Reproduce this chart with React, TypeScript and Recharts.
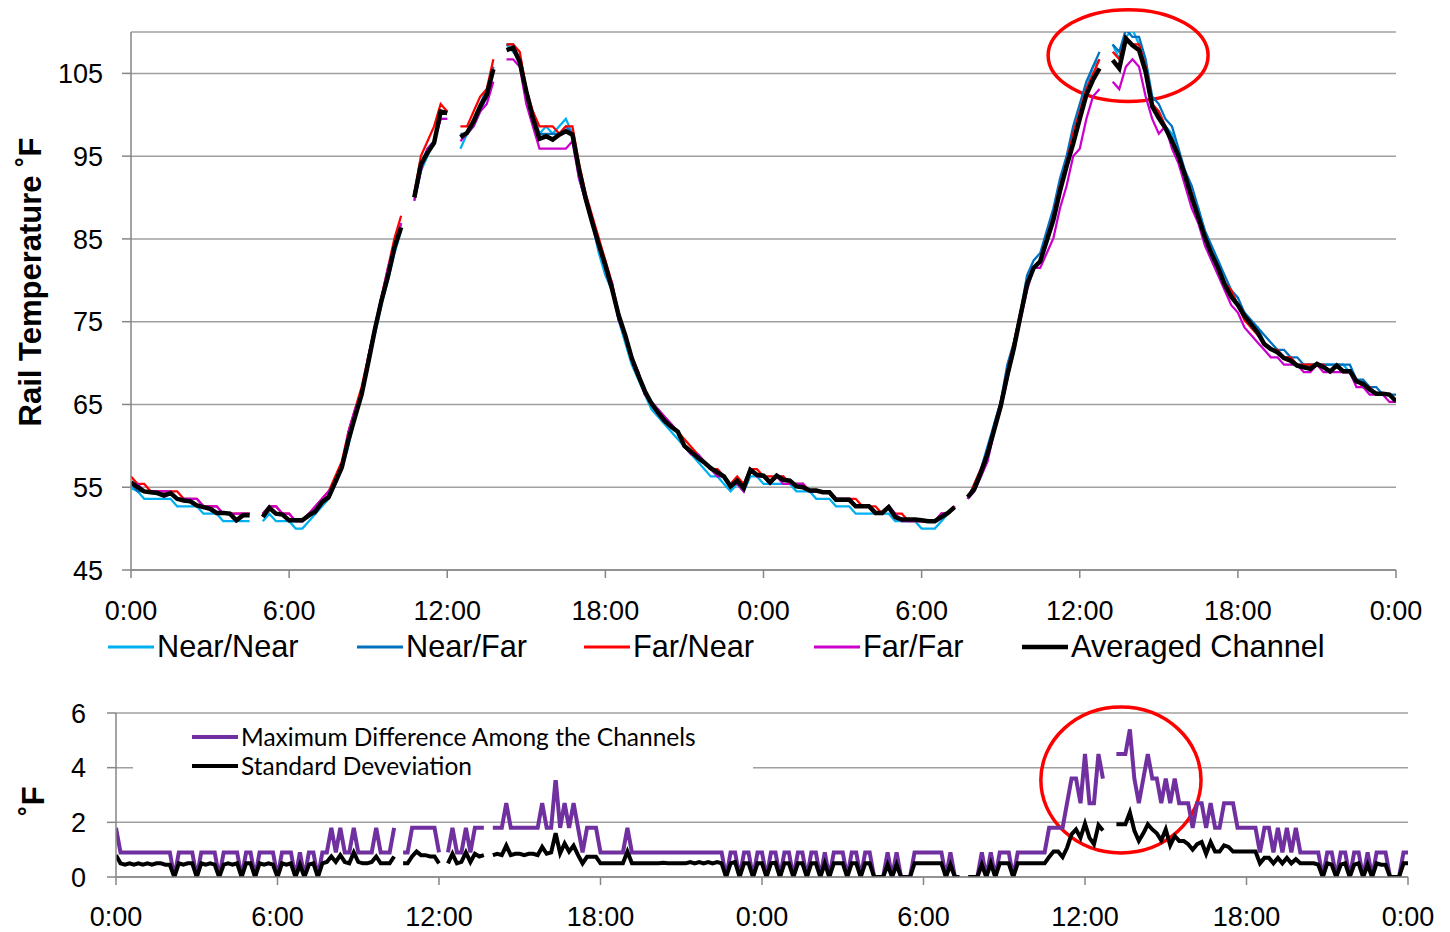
import React from 'react';
import { LineChart, Line, XAxis, YAxis, CartesianGrid, ReferenceArea } from 'recharts';

// Rail temperature, one reading every 15 minutes over 48 hours (°F); null = missing reading
const nearNear = [
  54.9, 54.5, 53.6, 53.6,
  53.6, 53.6, 53.6, 52.7,
  52.7, 52.7, 52.7, 51.8,
  51.8, 51.8, 50.9, 50.9,
  50.9, 50.9, 50.9, null,
  50.9, 51.8, 50.9, 50.9,
  50.9, 50.0, 50.0, 50.9,
  51.8, 52.7, 53.6, 55.4,
  57.2, 60.0, 63.5, 66.2,
  70.0, 73.4, 77.0, 80.0,
  83.3, 86.0, null, 89.6,
  93.2, 95.0, 96.8, 99.5,
  99.5, null, 95.9, 97.7,
  98.6, 100.4, 102.2, 105.8,
  null, 108.5, 107.6, 106.7,
  102.2, 100.4, 97.7, 98.6,
  97.7, 98.6, 99.5, 97.7,
  92.3, 89.6, 86.9, 83.3,
  80.6, 78.8, 75.2, 72.5,
  69.8, 68.0, 66.2, 64.4,
  63.5, 62.6, 61.7, 60.8,
  59.9, 59.0, 58.1, 57.2,
  56.3, 56.3, 55.4, 54.5,
  55.4, 54.5, 56.3, 56.3,
  55.4, 55.4, 55.4, 55.4,
  55.4, 54.5, 54.5, 54.5,
  53.6, 53.6, 53.6, 52.7,
  52.7, 52.7, 51.8, 51.8,
  51.8, 51.8, 51.8, 51.8,
  50.9, 50.9, 50.9, 50.9,
  50.0, 50.0, 50.0, 50.9,
  51.8, 52.7, null, 53.6,
  54.5, 56.3, 59.0, 62.6,
  65.3, 68.9, 72.5, 76.1,
  79.7, 81.5, 82.4, 85.1,
  87.8, 91.4, 94.1, 97.7,
  100.4, 103.1, 105.8, 106.7,
  null, 108.5, 106.7, 109.4,
  110.3, 108.5, 105.8, 101.3,
  100.4, 98.6, 97.7, 95.0,
  93.2, 90.5, 88.7, 85.1,
  83.3, 82.4, 79.7, 78.8,
  77.0, 76.1, 74.3, 74.3,
  72.5, 71.6, 71.6, 70.7,
  70.7, 69.8, 69.8, 69.8,
  69.8, 69.8, 69.8, 69.8,
  69.8, 68.9, 68.0, 67.1,
  67.1, 66.2, 66.2, 66.2,
  65.3,
];

const nearFar = [
  55.4, 54.5, 54.5, 54.5,
  54.5, 54.5, 54.5, 53.6,
  53.6, 53.6, 52.7, 52.7,
  52.7, 51.8, 51.8, 51.8,
  50.9, 51.8, 51.8, null,
  51.8, 52.7, 51.8, 51.8,
  50.9, 50.9, 50.9, 51.8,
  51.8, 53.6, 53.6, 55.4,
  57.2, 60.8, 63.5, 66.2,
  70.7, 74.3, 77.9, 80.6,
  84.2, 86.9, null, 90.5,
  94.1, 95.9, 96.8, 100.4,
  100.4, null, 97.7, 97.7,
  99.5, 101.3, 103.1, 105.8,
  null, 108.5, 108.5, 106.7,
  103.1, 99.5, 97.7, 97.7,
  97.7, 97.7, 98.6, 97.7,
  93.2, 89.6, 86.9, 84.2,
  81.5, 79.7, 75.2, 73.4,
  70.7, 68.9, 66.2, 65.3,
  64.4, 63.5, 62.6, 61.7,
  59.9, 59.0, 59.0, 58.1,
  57.2, 57.2, 56.3, 55.4,
  55.4, 55.4, 57.2, 56.3,
  56.3, 55.4, 56.3, 56.3,
  55.4, 55.4, 55.4, 54.5,
  54.5, 54.5, 54.5, 53.6,
  53.6, 53.6, 52.7, 52.7,
  52.7, 51.8, 51.8, 52.7,
  51.8, 50.9, 50.9, 50.9,
  50.9, 50.9, 50.9, 51.8,
  51.8, 52.7, null, 53.6,
  55.4, 57.2, 59.9, 62.6,
  65.3, 69.8, 72.5, 76.1,
  80.6, 82.4, 83.3, 86.0,
  88.7, 92.3, 95.0, 98.6,
  101.3, 104.0, 105.8, 107.6,
  null, 108.5, 107.6, 110.3,
  109.4, 109.4, 106.7, 102.2,
  101.3, 99.5, 98.6, 95.9,
  93.2, 91.4, 88.7, 86.0,
  84.2, 82.4, 80.6, 78.8,
  77.9, 76.1, 75.2, 74.3,
  73.4, 72.5, 71.6, 71.6,
  70.7, 70.7, 69.8, 69.8,
  69.8, 69.8, 69.8, 69.8,
  69.8, 69.8, 68.0, 68.0,
  67.1, 67.1, 66.2, 66.2,
  66.2,
];

const farNear = [
  56.3, 55.4, 55.4, 54.5,
  54.5, 54.5, 54.5, 54.5,
  53.6, 53.6, 53.6, 52.7,
  52.7, 52.7, 51.8, 51.8,
  51.8, 51.8, 51.8, null,
  51.8, 52.7, 52.7, 51.8,
  51.8, 50.9, 50.9, 51.8,
  52.7, 53.6, 54.5, 56.3,
  58.1, 61.7, 64.4, 67.1,
  70.7, 74.3, 77.9, 81.5,
  85.1, 87.8, null, 90.5,
  95.0, 96.8, 98.6, 101.3,
  100.4, null, 98.6, 98.6,
  100.4, 102.2, 103.1, 106.7,
  null, 108.5, 108.5, 107.6,
  103.1, 100.4, 98.6, 98.6,
  98.6, 97.7, 98.6, 98.6,
  94.1, 90.5, 87.8, 85.1,
  82.4, 79.7, 76.1, 73.4,
  70.7, 68.9, 66.2, 65.3,
  64.4, 63.5, 62.6, 61.7,
  60.8, 59.9, 59.0, 58.1,
  57.2, 57.2, 56.3, 55.4,
  56.3, 55.4, 57.2, 57.2,
  56.3, 56.3, 56.3, 56.3,
  55.4, 55.4, 55.4, 54.5,
  54.5, 54.5, 54.5, 53.6,
  53.6, 53.6, 53.6, 52.7,
  52.7, 52.7, 51.8, 52.7,
  51.8, 51.8, 50.9, 50.9,
  50.9, 50.9, 50.9, 51.8,
  51.8, 52.7, null, 53.6,
  55.4, 57.2, 59.0, 61.7,
  65.3, 68.9, 72.5, 76.1,
  79.7, 81.5, 82.4, 85.1,
  87.8, 91.4, 94.1, 97.7,
  100.4, 103.1, 104.9, 106.7,
  null, 107.6, 106.7, 109.4,
  108.5, 108.5, 105.8, 101.3,
  100.4, 98.6, 96.8, 95.0,
  92.3, 90.5, 87.8, 85.1,
  83.3, 81.5, 79.7, 78.8,
  77.0, 75.2, 74.3, 73.4,
  72.5, 71.6, 71.6, 70.7,
  70.7, 69.8, 69.8, 69.8,
  69.8, 69.8, 68.9, 69.8,
  68.9, 68.9, 68.0, 67.1,
  67.1, 66.2, 66.2, 66.2,
  65.3,
];

const farFar = [
  55.4, 55.4, 54.5, 54.5,
  54.5, 54.5, 54.5, 53.6,
  53.6, 53.6, 53.6, 52.7,
  52.7, 52.7, 51.8, 51.8,
  51.8, 51.8, 51.8, null,
  51.8, 52.7, 52.7, 51.8,
  51.8, 50.9, 50.9, 51.8,
  52.7, 53.6, 54.5, 55.4,
  57.2, 61.7, 64.4, 66.2,
  70.7, 74.3, 77.9, 81.5,
  84.2, 86.9, null, 89.6,
  93.2, 95.9, 96.8, 99.5,
  99.5, null, 96.8, 97.7,
  98.6, 100.4, 101.3, 104.0,
  null, 106.7, 106.7, 105.8,
  101.3, 98.6, 95.9, 95.9,
  95.9, 95.9, 95.9, 96.8,
  92.3, 89.6, 86.9, 84.2,
  81.5, 79.7, 75.2, 73.4,
  70.7, 68.9, 66.2, 65.3,
  64.4, 63.5, 62.6, 61.7,
  59.9, 59.0, 59.0, 58.1,
  57.2, 56.3, 56.3, 55.4,
  55.4, 54.5, 57.2, 56.3,
  56.3, 55.4, 56.3, 55.4,
  55.4, 55.4, 55.4, 54.5,
  54.5, 54.5, 54.5, 53.6,
  53.6, 53.6, 52.7, 52.7,
  52.7, 51.8, 51.8, 52.7,
  51.8, 50.9, 50.9, 50.9,
  50.9, 50.9, 50.9, 51.8,
  51.8, 52.7, null, 53.6,
  54.5, 56.3, 58.1, 61.7,
  64.4, 68.0, 71.6, 75.2,
  78.8, 81.5, 81.5, 83.3,
  85.1, 88.7, 91.4, 95.0,
  95.9, 99.5, 102.2, 103.1,
  null, 104.0, 103.1, 105.8,
  106.7, 105.8, 102.2, 99.5,
  97.7, 98.6, 95.9, 94.1,
  91.4, 88.7, 86.9, 84.2,
  82.4, 80.6, 78.8, 77.0,
  76.1, 74.3, 73.4, 72.5,
  71.6, 70.7, 70.7, 69.8,
  69.8, 69.8, 68.9, 68.9,
  69.8, 68.9, 68.9, 68.9,
  68.9, 68.9, 67.1, 67.1,
  66.2, 66.2, 66.2, 65.3,
  65.3,
];

const averaged = [
  55.6, 55.0, 54.5, 54.4,
  54.3, 54.0, 54.3, 53.6,
  53.4, 53.3, 52.8, 52.6,
  52.4, 51.9, 51.9, 51.8,
  51.0, 51.6, 51.6, null,
  51.4, 52.5, 51.8, 51.7,
  51.0, 51.0, 51.0, 51.6,
  52.1, 53.2, 53.8, 55.6,
  57.4, 60.7, 63.5, 66.2,
  70.0, 74.0, 77.5, 80.5,
  84.0, 86.4, null, 90.0,
  94.0, 95.4, 96.6, 100.4,
  100.2, null, 97.3, 97.8,
  99.2, 101.0, 102.4, 105.5,
  null, 107.8, 108.1, 106.4,
  102.8, 99.6, 97.1, 97.4,
  97.0, 97.6, 98.0, 97.6,
  93.4, 89.9, 87.0, 84.3,
  81.8, 79.0, 75.8, 73.4,
  70.6, 68.5, 66.6, 65.1,
  64.0, 63.0, 62.3, 61.7,
  60.0, 59.3, 58.6, 58.0,
  57.3, 56.8, 56.3, 55.1,
  55.8, 54.9, 57.1, 56.5,
  56.4, 55.6, 56.4, 55.9,
  55.8, 55.1, 55.0, 54.6,
  54.6, 54.4, 54.4, 53.5,
  53.5, 53.5, 52.7, 52.7,
  52.7, 51.9, 51.9, 52.6,
  51.4, 51.1, 51.1, 51.1,
  51.0, 50.9, 50.9, 51.4,
  51.9, 52.6, null, 53.8,
  54.8, 56.8, 59.0, 61.9,
  64.8, 68.5, 71.8, 75.7,
  79.5, 81.5, 82.3, 84.8,
  87.3, 90.8, 93.8, 96.5,
  99.5, 102.4, 104.2, 105.6,
  null, 106.6, 105.6, 109.2,
  108.4, 107.8, 105.2, 101.0,
  99.6, 98.4, 96.8, 95.0,
  92.6, 90.0, 87.6, 85.2,
  83.2, 81.5, 79.5, 78.0,
  77.0, 75.7, 74.7, 73.7,
  72.3, 71.7, 71.3, 70.6,
  70.3, 69.7, 69.5, 69.3,
  69.9, 69.5, 69.0, 69.7,
  69.0, 69.0, 67.8, 67.5,
  66.8, 66.3, 66.3, 66.2,
  65.4,
];

// Spread between the four channels, one value every 10 minutes (°F)
const maxDifference = [
  1.8, 0.9, 0.9, 0.9, 0.9, 0.9,
  0.9, 0.9, 0.9, 0.9, 0.9, 0.9,
  0.9, 0, 0.9, 0.9, 0.9, 0.9,
  0, 0.9, 0.9, 0.9, 0.9, 0,
  0.9, 0.9, 0.9, 0.9, 0, 0.9,
  0.9, 0, 0.9, 0.9, 0.9, 0.9,
  0, 0.9, 0.9, 0.9, 0, 0.9,
  0, 0.9, 0.9, 0, 0.9, 0.9,
  1.8, 0.9, 1.8, 0.9, 0.9, 1.8,
  0.9, 0.9, 0.9, 0.9, 1.8, 0.9,
  0.9, 0.9, 1.8, null, 0.9, 0.9,
  1.8, 1.8, 1.8, 1.8, 1.8, 1.8,
  0.9, null, 0.9, 1.8, 0.9, 0.9,
  1.8, 0.9, 1.8, 1.8, 1.8, null,
  1.8, 1.8, 1.8, 2.7, 1.8, 1.8,
  1.8, 1.8, 1.8, 1.8, 1.8, 2.7,
  1.8, 1.8, 3.6, 1.8, 2.7, 1.8,
  2.7, 1.8, 0.9, 1.8, 1.8, 1.8,
  0.9, 0.9, 0.9, 0.9, 0.9, 0.9,
  1.8, 0.9, 0.9, 0.9, 0.9, 0.9,
  0.9, 0.9, 0.9, 0.9, 0.9, 0.9,
  0.9, 0.9, 0.9, 0.9, 0.9, 0.9,
  0.9, 0.9, 0.9, 0.9, 0, 0.9,
  0.9, 0, 0.9, 0.9, 0, 0.9,
  0.9, 0, 0.9, 0.9, 0, 0.9,
  0.9, 0, 0.9, 0.9, 0, 0.9,
  0.9, 0, 0.9, 0, 0.9, 0.9,
  0.9, 0, 0.9, 0.9, 0, 0.9,
  0.9, 0, 0, 0, 0.9, 0,
  0.9, 0, 0, 0, 0.9, 0.9,
  0.9, 0.9, 0.9, 0.9, 0.9, 0,
  0.9, 0, 0, null, 0, 0,
  0, 0.9, 0, 0.9, 0, 0.9,
  0.9, 0.9, 0, 0.9, 0.9, 0.9,
  0.9, 0.9, 0.9, 0.9, 1.8, 1.8,
  1.8, 1.8, 2.7, 3.6, 3.6, 2.7,
  4.5, 2.7, 2.7, 4.5, 3.6, null,
  null, 4.5, 4.5, 4.5, 5.4, 3.6,
  2.7, 3.6, 4.5, 3.6, 3.6, 2.7,
  3.6, 2.7, 3.6, 2.7, 2.7, 2.7,
  1.8, 2.7, 2.7, 1.8, 2.7, 1.8,
  1.8, 2.7, 2.7, 2.7, 1.8, 1.8,
  1.8, 1.8, 1.8, 0.9, 1.8, 1.8,
  0.9, 1.8, 0.9, 1.8, 0.9, 1.8,
  0.9, 0.9, 0.9, 0.9, 0.9, 0,
  0.9, 0.9, 0, 0.9, 0.9, 0,
  0.9, 0.9, 0, 0.9, 0, 0.9,
  0.9, 0.9, 0, 0, 0, 0.9,
  0.9,
];

const stdDeviation = [
  0.8, 0.5, 0.45, 0.5, 0.45, 0.5,
  0.45, 0.5, 0.45, 0.5, 0.5, 0.45,
  0.45, 0, 0.5, 0.45, 0.5, 0.5,
  0, 0.5, 0.45, 0.5, 0.45, 0,
  0.45, 0.5, 0.45, 0.5, 0, 0.5,
  0.5, 0, 0.5, 0.45, 0.5, 0.45,
  0, 0.5, 0.45, 0.5, 0, 0.45,
  0, 0.45, 0.5, 0, 0.5, 0.55,
  0.75, 0.55, 0.8, 0.55, 0.5, 0.9,
  0.55, 0.5, 0.5, 0.55, 0.75, 0.5,
  0.5, 0.5, 0.75, null, 0.5, 0.5,
  0.75, 0.93, 0.8, 0.8, 0.75, 0.75,
  0.5, null, 0.5, 0.85, 0.5, 0.55,
  0.9, 0.55, 0.85, 0.75, 0.8, null,
  0.8, 0.85, 0.8, 1.15, 0.8, 0.85,
  0.85, 0.8, 0.85, 0.85, 0.8, 1.1,
  0.85, 0.9, 1.6, 0.87, 1.23, 0.93,
  1.15, 0.8, 0.5, 0.74, 0.74, 0.74,
  0.5, 0.5, 0.5, 0.5, 0.5, 0.5,
  0.93, 0.5, 0.5, 0.5, 0.5, 0.5,
  0.5, 0.5, 0.52, 0.5, 0.5, 0.5,
  0.5, 0.5, 0.55, 0.5, 0.55, 0.5,
  0.55, 0.5, 0.55, 0.5, 0, 0.5,
  0.55, 0, 0.5, 0.5, 0, 0.5,
  0.5, 0, 0.5, 0.52, 0, 0.5,
  0.5, 0, 0.5, 0.5, 0, 0.5,
  0.5, 0, 0.5, 0, 0.5, 0.5,
  0.5, 0, 0.5, 0.5, 0, 0.5,
  0.5, 0, 0, 0, 0.45, 0,
  0.45, 0, 0, 0, 0.5, 0.5,
  0.5, 0.5, 0.5, 0.5, 0.5, 0,
  0.45, 0, 0, null, 0, 0,
  0, 0.45, 0, 0.5, 0, 0.5,
  0.5, 0.5, 0, 0.5, 0.5, 0.5,
  0.5, 0.5, 0.5, 0.5, 0.73, 0.93,
  0.93, 0.73, 1.07, 1.56, 1.74, 1.44,
  1.95, 1.43, 1.2, 1.9, 1.7, null,
  null, 1.93, 1.93, 1.93, 2.36, 1.7,
  1.32, 1.6, 1.93, 1.74, 1.6, 1.34,
  1.74, 1.16, 1.5, 1.32, 1.32, 1.2,
  1.0, 1.2, 1.28, 0.85, 1.28, 0.93,
  0.93, 1.16, 1.1, 0.93, 0.93, 0.93,
  0.93, 0.93, 0.93, 0.5, 0.7, 0.7,
  0.5, 0.7, 0.5, 0.7, 0.5, 0.65,
  0.5, 0.5, 0.5, 0.5, 0.45, 0,
  0.5, 0.45, 0, 0.45, 0.5, 0,
  0.45, 0.5, 0, 0.45, 0, 0.5,
  0.45, 0.45, 0, 0, 0, 0.5,
  0.5,
];

const timeTicks = [0, 6, 12, 18, 24, 30, 36, 42, 48];
const timeLabels = ['0:00', '6:00', '12:00', '18:00', '0:00', '6:00', '12:00', '18:00', '0:00'];
const tempTicks = [45, 55, 65, 75, 85, 95, 105];
const diffTicks = [0, 2, 4, 6];

const channels = [
  { key: 'nearNear', name: 'Near/Near', color: '#00B0F0', width: 2.25, legendWidth: 3 },
  { key: 'nearFar', name: 'Near/Far', color: '#0070C0', width: 2.25, legendWidth: 3 },
  { key: 'farNear', name: 'Far/Near', color: '#FF0000', width: 2.25, legendWidth: 3 },
  { key: 'farFar', name: 'Far/Far', color: '#CC00CC', width: 2.25, legendWidth: 3 },
  { key: 'averaged', name: 'Averaged Channel', color: '#000000', width: 4.5, legendWidth: 4.5 },
];
const channelValues: Record<string, (number | null)[]> = { nearNear, nearFar, farNear, farFar, averaged };

const spreadSeries = [
  { key: 'maxDifference', name: 'Maximum Difference Among the Channels', color: '#7030A0', width: 4 },
  { key: 'stdDeviation', name: 'Standard Deveviation', color: '#000000', width: 4 },
];

const topData = averaged.map((_, i) => {
  const row: Record<string, number | null> = { h: i * 0.25 };
  channels.forEach((c) => { row[c.key] = channelValues[c.key][i]; });
  return row;
});

const bottomData = maxDifference.map((v, i) => ({
  h: i / 6,
  maxDifference: v,
  stdDeviation: stdDeviation[i],
}));

const AXIS_GRAY = '#868686';
const GRID_GRAY = '#A0A0A0';
const TICK_FONT = { fontSize: 27, fill: '#000', fontFamily: '"Liberation Sans", Arial, sans-serif' };

const timeFormatter = (v: number) => timeLabels[timeTicks.indexOf(v)] ?? '';

const rotatedTitle = (text: string, x: number, shift: number) => (props: any) => {
  const vb = props.viewBox || { y: 0, height: 0 };
  const y = vb.y + vb.height / 2 + shift;
  return (
    <text
      x={x}
      y={y}
      transform={`rotate(-90 ${x} ${y})`}
      textAnchor="middle"
      dominantBaseline="central"
      style={{ fontSize: 31, fontWeight: 700, fontFamily: '"Liberation Sans", Arial, sans-serif', fill: '#000' }}
    >
      {text}
    </text>
  );
};

const ellipseShape = (props: any) => (
  <ellipse
    cx={props.x + props.width / 2}
    cy={props.y + props.height / 2}
    rx={Math.abs(props.width) / 2}
    ry={Math.abs(props.height) / 2}
    fill="none"
    stroke="#FF0000"
    strokeWidth={3.5}
  />
);

const legendSwatchStarts = [108, 357, 584, 814, 1022];

export default function App() {
  return (
    <div style={{ position: 'absolute', left: 0, top: 0, width: 1450, height: 932, background: '#fff', overflow: 'hidden' }}>
      <div style={{ position: 'absolute', left: 0, top: 0 }}>
        <LineChart width={1450} height={680} data={topData} margin={{ top: 32, right: 54, left: 0, bottom: 60 }}>
          <CartesianGrid horizontal vertical={false} stroke={GRID_GRAY} strokeWidth={1.5} />
          <XAxis
            dataKey="h"
            type="number"
            domain={[0, 48]}
            allowDataOverflow
            ticks={timeTicks}
            interval={0}
            tickFormatter={timeFormatter}
            tick={TICK_FONT}
            tickSize={8}
            tickMargin={23}
            height={50}
            axisLine={{ stroke: AXIS_GRAY, strokeWidth: 1.5 }}
            tickLine={{ stroke: AXIS_GRAY, strokeWidth: 1.5 }}
          />
          <YAxis
            type="number"
            domain={[45, 110]}
            allowDataOverflow
            ticks={tempTicks}
            interval={0}
            width={131}
            tick={TICK_FONT}
            tickSize={9}
            tickMargin={19}
            axisLine={{ stroke: AXIS_GRAY, strokeWidth: 1.5 }}
            tickLine={{ stroke: AXIS_GRAY, strokeWidth: 1.5 }}
            label={rotatedTitle('Rail Temperature ˚F', 30, -19)}
          />
          {channels.map((c) => (
            <Line
              key={c.key}
              type="linear"
              dataKey={c.key}
              name={c.name}
              stroke={c.color}
              strokeWidth={c.width}
              dot={false}
              activeDot={false}
              isAnimationActive={false}
            />
          ))}
          <ReferenceArea x1={34.8} x2={40.87} y1={101.6} y2={112.7} ifOverflow="visible" shape={ellipseShape} />
        </LineChart>
      </div>

      {/* channel legend */}
      <div style={{ position: 'absolute', left: 0, top: 627, width: 1450, height: 40 }}>
        {channels.map((c, i) => (
          <div
            key={c.key}
            style={{ position: 'absolute', left: legendSwatchStarts[i], top: 0, height: 40, display: 'flex', alignItems: 'center', whiteSpace: 'nowrap' }}
          >
            <svg width={46} height={10} style={{ marginRight: 3 }}>
              <line x1={0} y1={5} x2={46} y2={5} stroke={c.color} strokeWidth={c.legendWidth} />
            </svg>
            <span style={{ fontSize: 30.7, fontFamily: '"Liberation Sans", Arial, sans-serif', color: '#000' }}>{c.name}</span>
          </div>
        ))}
      </div>

      <div style={{ position: 'absolute', left: 0, top: 680 }}>
        <LineChart width={1450} height={252} data={bottomData} margin={{ top: 33, right: 42, left: 0, bottom: 15 }}>
          <CartesianGrid horizontal vertical={false} stroke={GRID_GRAY} strokeWidth={1.5} />
          <XAxis
            dataKey="h"
            type="number"
            domain={[0, 48]}
            allowDataOverflow
            ticks={timeTicks}
            interval={0}
            tickFormatter={timeFormatter}
            tick={TICK_FONT}
            tickSize={8}
            tickMargin={22}
            height={40}
            axisLine={{ stroke: AXIS_GRAY, strokeWidth: 1.5 }}
            tickLine={{ stroke: AXIS_GRAY, strokeWidth: 1.5 }}
          />
          <YAxis
            type="number"
            domain={[0, 6]}
            allowDataOverflow
            ticks={diffTicks}
            interval={0}
            width={116}
            tick={TICK_FONT}
            tickSize={9}
            tickMargin={21}
            axisLine={{ stroke: AXIS_GRAY, strokeWidth: 1.5 }}
            tickLine={{ stroke: AXIS_GRAY, strokeWidth: 1.5 }}
            label={rotatedTitle('˚F', 33, 6)}
          />
          {spreadSeries.map((s) => (
            <Line
              key={s.key}
              type="linear"
              dataKey={s.key}
              name={s.name}
              stroke={s.color}
              strokeWidth={s.width}
              dot={false}
              activeDot={false}
              isAnimationActive={false}
            />
          ))}
          <ReferenceArea x1={34.36} x2={40.31} y1={0.88} y2={6.22} ifOverflow="visible" shape={ellipseShape} />
        </LineChart>
      </div>

      {/* spread legend */}
      <div style={{ position: 'absolute', left: 133, top: 722, width: 620, height: 58, background: '#fff' }}>
        {spreadSeries.map((s, i) => (
          <div
            key={s.key}
            style={{ position: 'absolute', left: 59, top: i * 29, height: 29, display: 'flex', alignItems: 'center', whiteSpace: 'nowrap' }}
          >
            <svg width={46} height={10} style={{ marginRight: 3 }}>
              <line x1={0} y1={5} x2={46} y2={5} stroke={s.color} strokeWidth={s.width} />
            </svg>
            <span style={{ fontSize: 24.5, fontFamily: 'Lato, "Open Sans", sans-serif', color: '#000' }}>{s.name}</span>
          </div>
        ))}
      </div>
    </div>
  );
}
